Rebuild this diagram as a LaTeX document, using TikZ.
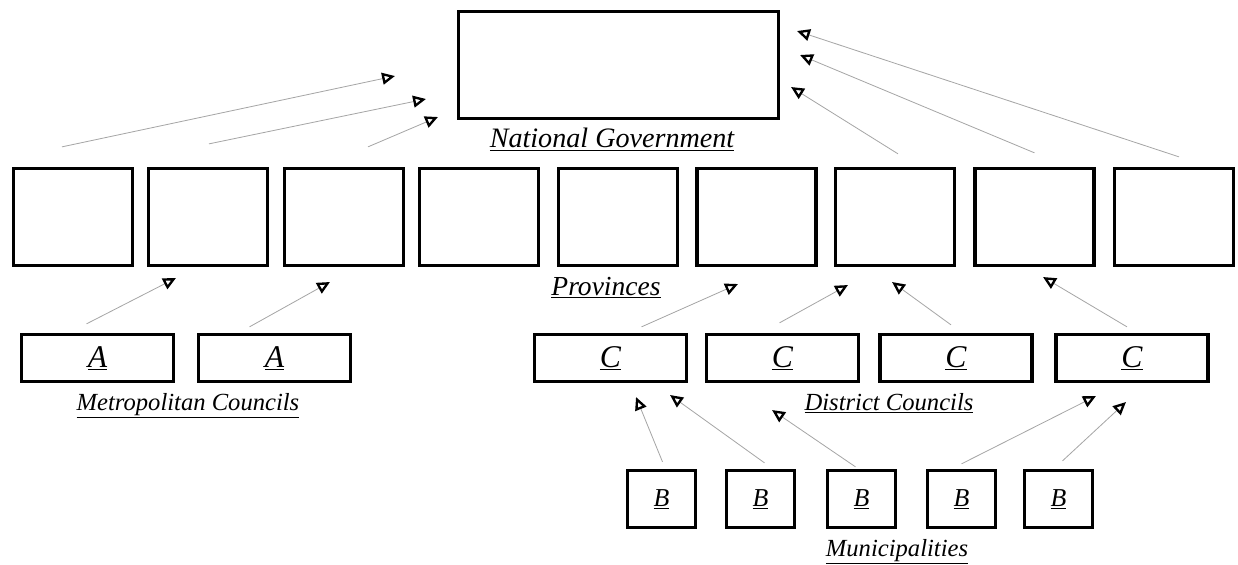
\documentclass[tikz,border=0pt]{standalone}
\usepackage{fontspec}
\setmainfont{Liberation Serif}
\usetikzlibrary{arrows.meta,calc}

\tikzset{
  unit/.style={draw, line width=2.8pt, inner sep=0pt},
  prov/.style={unit, minimum width=3.57cm, minimum height=2.91cm},
  council/.style={unit, minimum width=4.56cm, minimum height=1.41cm, font=\fontsize{27}{30}\selectfont\itshape},
  muni/.style={unit, minimum width=2.04cm, minimum height=1.71cm, font=\fontsize{22}{26}\selectfont\itshape},
  tier/.style={anchor=base, inner sep=0pt, font=\fontsize{21}{25}\selectfont\itshape},
  up/.style={gray!70, line width=0.7pt, -{Triangle[open, length=11pt, width=10pt, line width=2pt, color=black]}}
}

\begin{document}
\begin{tikzpicture}[x=0.03cm, y=-0.03cm]
\useasboundingbox (0,0) rectangle (1238,565);

% national level
\node[unit, minimum width=9.6cm, minimum height=3.21cm] (nat) at (618.5,65) {};
\node[tier, font=\fontsize{24}{28}\selectfont\itshape] (natlab) at (612,148) {\underline{National Government}};

% provinces
\foreach \i/\x in {1/73,2/208,3/344,4/479,5/618,6/756.5,7/895,8/1034.5,9/1174} {
  \node[prov] (p\i) at (\x,217) {};
}
\node[tier, font=\fontsize{23.5}{28}\selectfont\itshape] (provlab) at (606,295) {\underline{Provinces}};

% metropolitan and district councils
\node[council] (a1) at (97.5,358) {\underline{A}};
\node[council] (a2) at (274.5,358) {\underline{A}};
\node[tier] (metlab) at (188,410) {\underline{Metropolitan Councils}};

\foreach \i/\x in {1/610.5,2/782.5,3/956,4/1132} {
  \node[council] (c\i) at (\x,358) {\underline{C}};
}
\node[tier] (distlab) at (889,410) {\underline{District Councils}};

% municipalities
\foreach \i/\x in {1/661.5,2/760.5,3/861.5,4/961.5,5/1058.5} {
  \node[muni] (b\i) at (\x,499) {\underline{B}};
}
\node[tier] (munilab) at (897,556) {\underline{Municipalities}};

% arrow tips
\foreach \n/\x/\y in {g1/395/76,g2/426/99,g3/438/117,g4/791/87,g5/800/55,g6/797/31,
                      q1/176/278,q2/330/282,q3/738/284,q4/848/285,q5/892/282,q6/1043/277,
                      d1/636/397,d2/670/395,d3/772/410,d4/1096/396,d5/1126/402} {
  \coordinate (\n) at (\x,\y);
}

% reporting lines
\foreach \src/\dx/\dy/\tip in {p1/-11/-20/g1,p2/1/-23/g2,p3/24/-20/g3,p7/3/-13/g4,p8/0/-14/g5,p9/5/-10/g6,
                               a1/-11/-9/q1,a2/-25/-6/q2,c1/31/-6/q3,c2/-3/-10/q4,c3/-5/-8/q5,c4/-5/-6/q6,
                               b1/1/-7/d1,b2/4/-6/d2,b3/-6/-2/d3,b4/0/-5/d4,b5/4/-8/d5} {
  \draw[up] ($(\src.north)+(\dx,\dy)$) -- (\tip);
}
\end{tikzpicture}
\end{document}
